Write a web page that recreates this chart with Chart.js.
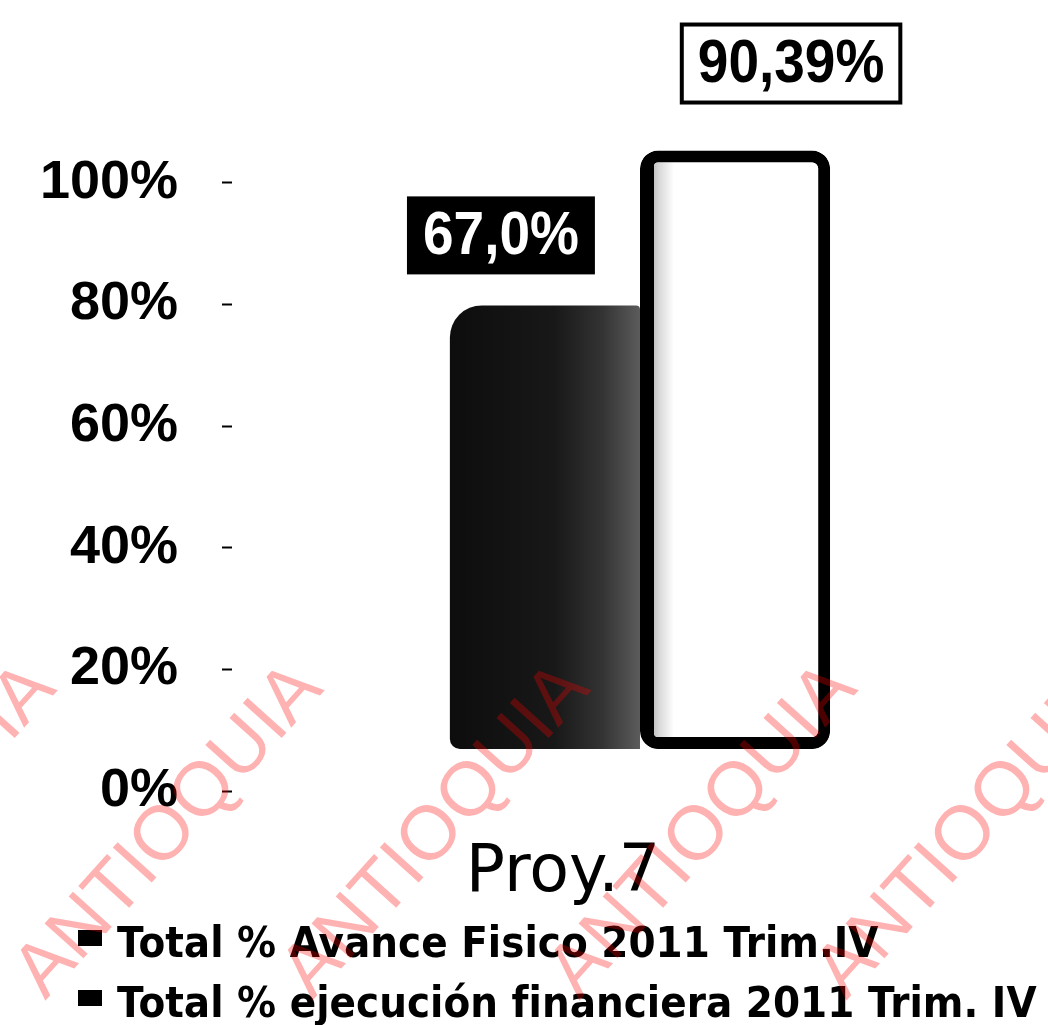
<!DOCTYPE html>
<html lang="es">
<head>
  <meta charset="UTF-8">
  <title>Proy.7 - Avance físico y ejecución financiera 2011</title>
  <script src="https://cdn.jsdelivr.net/npm/chart.js"></script>
  <style>
    html, body { margin: 0; padding: 0; background: #fff; }
    #contenedor { width: 1048px; height: 1025px; position: relative; }
  </style>
</head>
<body>
  <div id="contenedor"><canvas id="grafico"></canvas></div>

  <script>
    // Datos
    const categorias = ['Proy.7'];
    const nombresSeries = ['Total % Avance Fisico 2011 Trim.IV', 'Total % ejecución financiera 2011 Trim. IV'];
    const avanceFisico = [67.0];
    const ejecucionFinanciera = [90.39];
    const ticksY = [0, 20, 40, 60, 80, 100];
    const marcaAgua = 'ANTIOQUIA';

    const porcentajeCategoria = 0.466;

    // degradado horizontal de cada barra (columna oscura / columna blanca)
    function relleno(ctx, serie) {
      const chart = ctx.chart;
      if (!chart.chartArea || !chart.scales.x) return serie === 0 ? '#151515' : '#fff';
      const xs = chart.scales.x;
      const centro = xs.getPixelForValue(0);
      const w = xs.width * porcentajeCategoria / 2;
      const x0 = serie === 0 ? centro - w : centro;
      const g = chart.ctx.createLinearGradient(x0, 0, x0 + w, 0);
      if (serie === 0) {
        g.addColorStop(0, '#0d0d0d');
        g.addColorStop(0.55, '#181818');
        g.addColorStop(0.8, '#333');
        g.addColorStop(1, '#5c5c5c');
      } else {
        g.addColorStop(0, '#8a8a8a');
        g.addColorStop(0.1, '#d8d8d8');
        g.addColorStop(0.18, '#fff');
        g.addColorStop(1, '#fff');
      }
      return g;
    }

    function textoValor(v) {
      return v.toFixed(v % 1 === 0 ? 1 : 2).replace('.', ',') + '%';
    }

    // etiquetas de valor en cajas
    const estiloEtiquetas = [
      { fondo: '#000', texto: '#fff', borde: null, dx: -44, dy: -70 },
      { fondo: '#fff', texto: '#000', borde: '#000', dx: 56, dy: -87 }
    ];

    const pluginEtiquetas = {
      id: 'etiquetas',
      afterDatasetsDraw(chart) {
        const ctx = chart.ctx;
        chart.data.datasets.forEach((ds, i) => {
          const barra = chart.getDatasetMeta(i).data[0];
          const e = estiloEtiquetas[i];
          const t = textoValor(ds.data[0]);
          ctx.save();
          ctx.font = 'bold 55px "Liberation Sans", Arial, sans-serif';
          const ancho = ctx.measureText(t).width + 32;
          const alto = 78;
          const cx = barra.x + e.dx, cy = barra.y + e.dy;
          ctx.fillStyle = e.fondo;
          ctx.fillRect(cx - ancho / 2, cy - alto / 2, ancho, alto);
          if (e.borde) {
            ctx.strokeStyle = e.borde;
            ctx.lineWidth = 4;
            ctx.strokeRect(cx - ancho / 2, cy - alto / 2, ancho, alto);
          }
          ctx.translate(cx, cy);
          ctx.scale(1, 1.1);
          ctx.fillStyle = e.texto;
          ctx.textAlign = 'center';
          ctx.textBaseline = 'middle';
          ctx.fillText(t, 0, 2);
          ctx.restore();
        });
      }
    };

    // leyenda en dos renglones, abajo a la izquierda
    const pluginLeyenda = {
      id: 'leyenda',
      afterDraw(chart) {
        const ctx = chart.ctx;
        const y0 = chart.height - 68;
        chart.data.datasets.forEach((ds, i) => {
          const y = y0 + i * 60;
          ctx.save();
          ctx.fillStyle = '#000';
          ctx.fillRect(78, y - 27, 24, 16);
          ctx.translate(117, y);
          ctx.scale(1, 1.08);
          ctx.font = 'bold 39px "DejaVu Sans", sans-serif';
          ctx.textBaseline = 'alphabetic';
          ctx.fillText(ds.label, 0, 0);
          ctx.restore();
        });
      }
    };

    // marca de agua diagonal
    const pluginMarcaAgua = {
      id: 'marcaAgua',
      afterDraw(chart) {
        const ctx = chart.ctx;
        ctx.save();
        ctx.fillStyle = 'rgba(255, 0, 0, 0.3)';
        ctx.font = '76px "Liberation Sans", Arial, sans-serif';
        ctx.textAlign = 'right';
        ctx.textBaseline = 'alphabetic';
        for (let k = 0; k < 5; k++) {
          ctx.save();
          ctx.translate(58 + 267 * k, 690);
          ctx.rotate(-48 * Math.PI / 180);
          ctx.fillText(marcaAgua, 0, 0);
          ctx.restore();
        }
        ctx.restore();
      }
    };

    new Chart(document.getElementById('grafico'), {
      type: 'bar',
      data: {
        labels: categorias,
        datasets: [
          {
            label: nombresSeries[0],
            data: avanceFisico,
            yAxisID: 'y2',
            backgroundColor: ctx => relleno(ctx, 0),
            borderWidth: 0,
            borderSkipped: false,
            borderRadius: { topLeft: 32, topRight: 4, bottomLeft: 10, bottomRight: 0 }
          },
          {
            label: nombresSeries[1],
            data: ejecucionFinanciera,
            yAxisID: 'y2',
            backgroundColor: ctx => relleno(ctx, 1),
            borderColor: '#000',
            borderWidth: { top: 12, left: 14, right: 12, bottom: 12 },
            borderSkipped: false,
            borderRadius: 18
          }
        ]
      },
      options: {
        responsive: true,
        maintainAspectRatio: false,
        animation: false,
        events: [],
        categoryPercentage: porcentajeCategoria,
        barPercentage: 1,
        layout: { padding: { top: 120, bottom: 104, left: 0, right: 0 } },
        plugins: {
          legend: { display: false },
          tooltip: { enabled: false }
        },
        scales: {
          x: {
            grid: { display: false },
            border: { display: false },
            ticks: {
              color: '#000',
              font: { family: '"DejaVu Sans", sans-serif', size: 65 },
              padding: 36,
              labelOffset: -77
            },
            afterFit(scale) { scale.height = 130; }
          },
          y: {
            min: 0,
            max: 110.36,
            grid: { drawOnChartArea: false, tickLength: 10, tickWidth: 2, tickColor: '#000' },
            border: { display: false },
            ticks: {
              color: '#000',
              font: { family: '"Liberation Sans", Arial, sans-serif', size: 54, weight: 'bold' },
              padding: 44,
              callback: v => v + '%'
            },
            afterBuildTicks(scale) { scale.ticks = ticksY.map(v => ({ value: v })); },
            afterFit(scale) { scale.width = 232; }
          },
          y2: {
            display: false,
            min: -6.34,
            max: 95
          }
        }
      },
      plugins: [pluginEtiquetas, pluginLeyenda, pluginMarcaAgua]
    });
  </script>
</body>
</html>
